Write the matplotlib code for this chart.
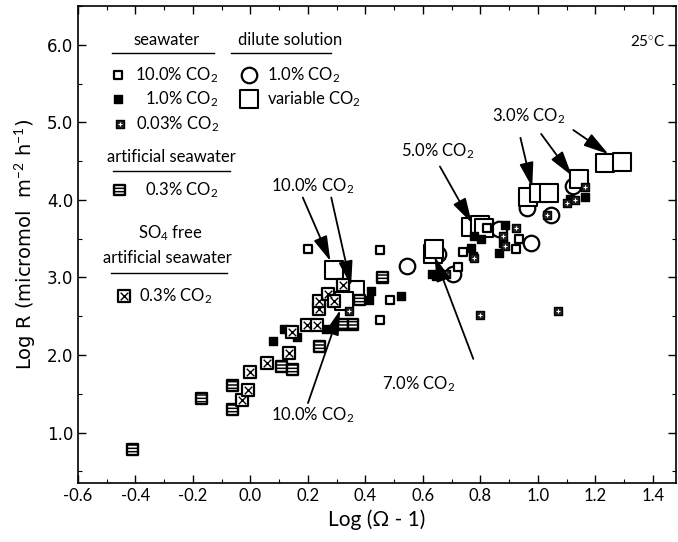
import matplotlib
matplotlib.use("Agg")
import matplotlib.pyplot as plt
from matplotlib.ticker import MultipleLocator, FormatStrFormatter

plt.rcParams["font.family"] = ["Lato", "DejaVu Sans"]
plt.rcParams["mathtext.fontset"] = "custom"
plt.rcParams["mathtext.rm"] = "Lato"
plt.rcParams["mathtext.it"] = "Lato:italic"
plt.rcParams["axes.unicode_minus"] = False
plt.rcParams["hatch.linewidth"] = 1.1

# seawater 10.0% CO2 (small open squares)
sw10_x = [0.200, 0.452, 0.486, 0.452, 0.723, 0.740, 0.822, 0.922, 0.934]
sw10_y = [3.37, 3.35, 2.71, 2.45, 3.14, 3.33, 3.64, 3.36, 3.49]

# seawater 1.0% CO2 (small filled squares)
sw1_x = [0.078, 0.118, 0.163, 0.261, 0.418, 0.412, 0.523, 0.630, 0.646,
         0.768, 0.773, 0.802, 0.779, 0.866, 0.887, 0.878, 1.110, 1.165]
sw1_y = [2.18, 2.34, 2.23, 2.34, 2.82, 2.71, 2.76, 3.04, 3.02,
         3.38, 3.27, 3.49, 3.53, 3.32, 3.67, 3.45, 4.01, 4.04]

# seawater 0.03% CO2 (dotted squares)
sw003_x = [0.342, 0.800, 1.069, 0.681, 0.776, 0.887, 0.880, 0.922, 1.032, 1.100, 1.130, 1.162]
sw003_y = [2.57, 2.52, 2.57, 3.05, 3.25, 3.40, 3.53, 3.64, 3.80, 3.96, 4.00, 4.16]

# artificial seawater 0.3% CO2
asw_x = [-0.411, -0.171, -0.063, -0.063, 0.107, 0.145, 0.240, 0.320, 0.357, 0.380, 0.458]
asw_y = [0.78, 1.44, 1.61, 1.30, 1.85, 1.81, 2.11, 2.39, 2.39, 2.71, 3.00]

# SO4 free artificial seawater 0.3% CO2
so4_x = [-0.030, -0.008, 0.000, 0.056, 0.133, 0.143, 0.198, 0.231, 0.238, 0.240, 0.269, 0.290, 0.323]
so4_y = [1.42, 1.55, 1.78, 1.89, 2.03, 2.29, 2.39, 2.39, 2.59, 2.69, 2.78, 2.69, 2.90]

# dilute solution 1.0% CO2 (circles)
dil1_x = [0.545, 0.652, 0.704, 0.866, 0.962, 0.976, 1.046, 1.121]
dil1_y = [3.15, 3.30, 3.04, 3.63, 3.89, 3.45, 3.81, 4.18]

# dilute solution variable CO2 (large open squares)
dilvar_x = [0.292, 0.365, 0.325, 0.636, 0.638, 0.768, 0.798, 0.814,
            0.965, 1.005, 1.040, 1.144, 1.234, 1.293]
dilvar_y = [3.10, 2.84, 2.69, 3.30, 3.37, 3.65, 3.67, 3.64,
            4.04, 4.09, 4.09, 4.27, 4.48, 4.49]

# annotations: label, label position, list of (tail, head)
ann_labels = ["10.0% CO$_{2}$", "10.0% CO$_{2}$", "5.0% CO$_{2}$", "7.0% CO$_{2}$", "3.0% CO$_{2}$"]
ann_text_xy = [(0.217, 4.18), (0.217, 1.23), (0.653, 4.63), (0.585, 1.62), (0.968, 5.08)]
ann_arrows = [
    [((0.182, 4.03), (0.278, 3.21)), ((0.281, 4.03), (0.350, 2.89))],
    [((0.200, 1.38), (0.312, 2.58))],
    [((0.659, 4.43), (0.770, 3.70))],
    [((0.775, 1.95), (0.640, 3.27))],
    [((0.939, 4.80), (0.980, 4.16)), ((1.011, 4.85), (1.118, 4.31)), ((1.123, 4.90), (1.245, 4.59))],
]

SMALL = 32
BIG = 150
CIRC = 125


def draw_sw10(ax, x, y, **kw):
    ax.scatter(x, y, s=SMALL, marker="s", facecolor="white", edgecolor="black", linewidth=1.6, zorder=3, **kw)


def draw_sw1(ax, x, y, **kw):
    ax.scatter(x, y, s=SMALL, marker="s", facecolor="black", edgecolor="black", linewidth=1.0, zorder=3, **kw)


def draw_sw003(ax, x, y, **kw):
    ax.scatter(x, y, s=SMALL, marker="s", facecolor="#222222", edgecolor="black", linewidth=1.0, zorder=3, **kw)
    ax.scatter(x, y, s=8, marker="+", color="white", linewidth=0.8, zorder=3.1, **kw)


def draw_asw(ax, x, y, **kw):
    ax.scatter(x, y, s=60, marker="s", facecolor="white", edgecolor="black", linewidth=1.7,
               hatch="-----", zorder=3, **kw)


def draw_so4(ax, x, y, **kw):
    ax.scatter(x, y, s=70, marker="s", facecolor="white", edgecolor="black", linewidth=1.6, zorder=3, **kw)
    ax.scatter(x, y, s=30, marker="x", color="black", linewidth=1.0, zorder=3.1, **kw)


def draw_dil1(ax, x, y, **kw):
    ax.scatter(x, y, s=CIRC, marker="o", facecolor="white", edgecolor="black", linewidth=1.6, zorder=2.5, **kw)


def draw_dilvar(ax, x, y, **kw):
    ax.scatter(x, y, s=BIG, marker="s", facecolor="white", edgecolor="black", linewidth=1.5, zorder=2.6, **kw)


fig = plt.figure(figsize=(6.78, 5.42), dpi=100)
ax = fig.add_axes([0.115, 0.109, 0.882, 0.880])

draw_dil1(ax, dil1_x, dil1_y)
draw_dilvar(ax, dilvar_x, dilvar_y)
draw_sw10(ax, sw10_x, sw10_y)
draw_sw1(ax, sw1_x, sw1_y)
draw_sw003(ax, sw003_x, sw003_y)
draw_asw(ax, asw_x, asw_y)
draw_so4(ax, so4_x, so4_y)

fs = 12
for label, txy, arrows in zip(ann_labels, ann_text_xy, ann_arrows):
    ax.text(txy[0], txy[1], label, ha="center", va="center", fontsize=fs)
    for tail, head in arrows:
        ax.annotate("", xy=head, xytext=tail,
                    arrowprops=dict(arrowstyle="-|>,head_length=0.85,head_width=0.24",
                                    color="black", lw=1.3, mutation_scale=18,
                                    shrinkA=0, shrinkB=0), zorder=4)

ax.text(0.953, 0.925, "25$^{\\circ}$C", transform=ax.transAxes, ha="center", va="center", fontsize=11)

# legend block
T = ax.transAxes
ax.text(0.149, 0.929, "seawater", transform=T, ha="center", va="center", fontsize=fs)
ax.plot([0.057, 0.227], [0.901, 0.901], transform=T, color="black", lw=1.0)
ax.text(0.355, 0.929, "dilute solution", transform=T, ha="center", va="center", fontsize=fs)
ax.plot([0.256, 0.423], [0.901, 0.901], transform=T, color="black", lw=1.0)

draw_sw10(ax, [0.067], [0.855], transform=T)
ax.text(0.095, 0.855, "10.0% CO$_{2}$", transform=T, ha="left", va="center", fontsize=fs)
draw_sw1(ax, [0.067], [0.805], transform=T)
ax.text(0.112, 0.805, "1.0% CO$_{2}$", transform=T, ha="left", va="center", fontsize=fs)
draw_sw003(ax, [0.070], [0.753], transform=T)
ax.text(0.097, 0.753, "0.03% CO$_{2}$", transform=T, ha="left", va="center", fontsize=fs)

draw_dil1(ax, [0.286], [0.855], transform=T)
ax.text(0.316, 0.855, "1.0% CO$_{2}$", transform=T, ha="left", va="center", fontsize=fs)
draw_dilvar(ax, [0.286], [0.805], transform=T)
ax.text(0.316, 0.805, "variable CO$_{2}$", transform=T, ha="left", va="center", fontsize=fs)

ax.text(0.157, 0.683, "artificial seawater", transform=T, ha="center", va="center", fontsize=fs)
ax.plot([0.059, 0.254], [0.654, 0.654], transform=T, color="black", lw=1.0)
draw_asw(ax, [0.069], [0.614], transform=T)
ax.text(0.112, 0.614, "0.3% CO$_{2}$", transform=T, ha="left", va="center", fontsize=fs)

ax.text(0.154, 0.524, "SO$_{4}$ free", transform=T, ha="center", va="center", fontsize=fs)
ax.text(0.149, 0.472, "artificial seawater", transform=T, ha="center", va="center", fontsize=fs)
ax.plot([0.055, 0.249], [0.440, 0.440], transform=T, color="black", lw=1.0)
draw_so4(ax, [0.077], [0.392], transform=T)
ax.text(0.102, 0.392, "0.3% CO$_{2}$", transform=T, ha="left", va="center", fontsize=fs)

ax.set_xlim(-0.6, 1.48)
ax.set_ylim(0.35, 6.5)
ax.xaxis.set_major_locator(MultipleLocator(0.2))
ax.xaxis.set_minor_locator(MultipleLocator(0.1))
ax.yaxis.set_major_locator(MultipleLocator(1.0))
ax.yaxis.set_minor_locator(MultipleLocator(0.5))
ax.xaxis.set_major_formatter(FormatStrFormatter("%.1f"))
ax.yaxis.set_major_formatter(FormatStrFormatter("%.1f"))
ax.tick_params(which="both", direction="in", top=True, right=True, labelsize=12)
ax.tick_params(which="major", length=6, width=1.0)
ax.tick_params(which="minor", length=3, width=0.8)
for lab in ax.get_yticklabels():
    lab.set_fontfamily("DejaVu Sans")
for sp in ax.spines.values():
    sp.set_linewidth(1.2)

ax.set_xlabel("Log (\u03a9 - 1)", fontsize=15)
ax.set_ylabel("Log R (micromol  m$^{-2}$ h$^{-1}$)", fontsize=14, family="DejaVu Sans", labelpad=6)

fig.savefig("out.png", dpi=100)
